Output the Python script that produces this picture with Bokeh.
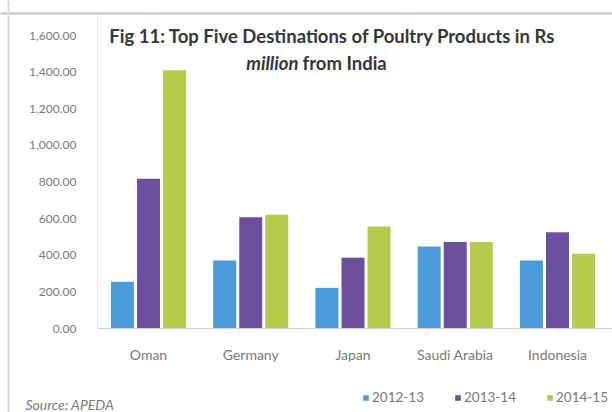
from bokeh.plotting import figure
from bokeh.models import ColumnDataSource, NumeralTickFormatter, FixedTicker, Label, Range1d, Span
from bokeh.transform import dodge
from bokeh.embed import file_html
from bokeh.resources import INLINE

countries = ["Oman", "Germany", "Japan", "Saudi Arabia", "Indonesia"]
years = ["2012-13", "2013-14", "2014-15"]
v_2012_13 = [255, 372, 222, 448, 372]
v_2013_14 = [818, 608, 386, 472, 526]
v_2014_15 = [1410, 621, 557, 472, 408]
y_ticks = [0, 200, 400, 600, 800, 1000, 1200, 1400, 1600]

colors = ["#4a9bd8", "#6c4f9e", "#b6cb4a"]
FONT = "Lato"

W, H = 612, 412
PX_X = 102.25            # pixels per category
X0 = 148                 # pixel centre of first category
PX_Y = 293.0 / 1600.0    # pixels per unit
Y0 = 328                 # pixel of zero line

pos = list(range(1, len(countries) + 1))
source = ColumnDataSource(data=dict(pos=pos, a=v_2012_13, b=v_2013_14, c=v_2014_15))

x_range = Range1d(1 - X0 / PX_X, 1 + (W - X0) / PX_X)
y_range = Range1d(-(H - Y0) / PX_Y, 1600 + (Y0 - 293) / PX_Y)

def sx(px):
    return 1 + (px - X0) / PX_X

def sy(py):
    return (Y0 - py) / PX_Y

p = figure(x_range=x_range, y_range=y_range, width=W, height=H,
           output_backend="svg", toolbar_location=None,
           min_border_left=0, min_border_right=0, min_border_top=0, min_border_bottom=0)
p.background_fill_color = "white"
p.border_fill_color = "white"
p.outline_line_color = None
p.xgrid.grid_line_color = None
p.ygrid.grid_line_color = None

# faint frame of the original chart box
p.add_layout(Span(location=sy(13), dimension="width", line_color="#d4d4d4", line_width=3))
p.add_layout(Span(location=sx(8), dimension="height", line_color="#dcdcdc", line_width=2))

offsets = [-0.255, 0.0, 0.255]
for col, off, clr, yr in zip(["a", "b", "c"], offsets, colors, years):
    p.vbar(x=dodge("pos", off), top=col, width=0.225, source=source,
           fill_color=clr, line_color=None, legend_label=yr)

yax = p.yaxis[0]
yax.fixed_location = 0.5
yax.ticker = FixedTicker(ticks=y_ticks)
yax.formatter = NumeralTickFormatter(format="0,0.00")
yax.bounds = (0, sy(14))
yax.major_tick_line_color = None
yax.minor_tick_line_color = None
yax.major_tick_out = 0
yax.major_tick_in = 0
yax.major_label_standoff = 21
yax.axis_line_color = "#ececec"
yax.major_label_text_color = "#7a7a7a"
yax.major_label_text_font = FONT
yax.major_label_text_font_size = "12px"

xax = p.xaxis[0]
xax.fixed_location = 0
xax.ticker = FixedTicker(ticks=pos)
xax.major_label_overrides = {i: c for i, c in zip(pos, countries)}
xax.bounds = (0.5, x_range.end)
xax.major_tick_line_color = None
xax.minor_tick_line_color = None
xax.major_tick_out = 0
xax.major_tick_in = 0
xax.major_label_standoff = 17
xax.axis_line_color = "#d0d0d0"
xax.major_label_text_color = "#7a7a7a"
xax.major_label_text_font = FONT
xax.major_label_text_font_size = "14px"

leg = p.legend[0]
leg.orientation = "horizontal"
leg.location = (362, 7)
leg.border_line_color = None
leg.background_fill_alpha = 0
leg.padding = 0
leg.margin = 0
leg.spacing = 30
leg.glyph_width = 7
leg.glyph_height = 7
leg.label_height = 14
leg.label_standoff = 3
leg.label_text_font = FONT
leg.label_text_font_size = "13.5px"
leg.label_text_color = "#7a7a7a"

TITLE_SIZE = "18.5px"
TITLE_COLOR = "#363636"
p.add_layout(Label(x=sx(332), y=sy(35), text="Fig 11: Top Five Destinations of Poultry Products in Rs",
                   text_font=FONT, text_font_style="bold", text_font_size=TITLE_SIZE,
                   text_color=TITLE_COLOR, text_align="center", text_baseline="middle"))
p.add_layout(Label(x=sx(298), y=sy(62), text="million",
                   text_font=FONT, text_font_style="bold italic", text_font_size=TITLE_SIZE,
                   text_color=TITLE_COLOR, text_align="right", text_baseline="middle"))
p.add_layout(Label(x=sx(302), y=sy(62), text="from India",
                   text_font=FONT, text_font_style="bold", text_font_size=TITLE_SIZE,
                   text_color=TITLE_COLOR, text_align="left", text_baseline="middle"))
p.add_layout(Label(x=sx(25), y=sy(404), text="Source: APEDA",
                   text_font=FONT, text_font_style="italic", text_font_size="14px",
                   text_color="#7a7a7a", text_align="left", text_baseline="middle"))

open("out.html", "w").write(file_html(p, INLINE))
